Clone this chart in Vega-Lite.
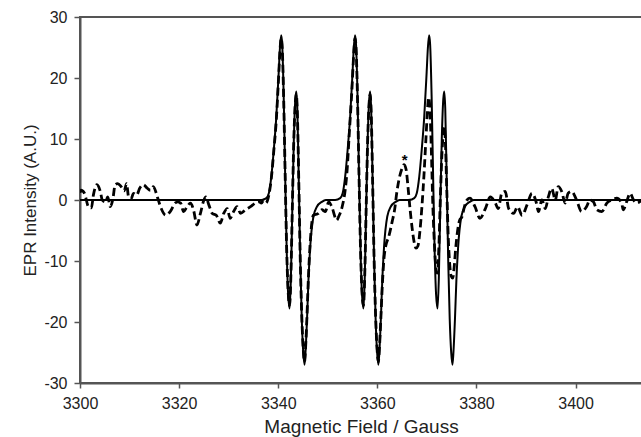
{
  "$schema": "https://vega.github.io/schema/vega-lite/v6.json",
  "width": 562,
  "height": 366,
  "autosize": {"type": "none"},
  "padding": {"left": 80, "top": 17, "right": 0, "bottom": 54},
  "background": "white",
  "config": {
    "view": {"stroke": "#555", "strokeWidth": 2},
    "font": "Liberation Sans",
    "axis": {
      "grid": false,
      "domainColor": "#555",
      "domainWidth": 2,
      "tickColor": "#555",
      "tickWidth": 1.5,
      "labelFont": "Liberation Sans",
      "labelColor": "#222",
      "labelFontSize": 16,
      "titleFont": "Liberation Sans",
      "titleColor": "#222",
      "titleFontWeight": "normal"
    }
  },
  "datasets": {
    "sim": [
      {"x": 3300, "y": 0}, {"x": 3336.6, "y": 0}, {"x": 3337.6, "y": 0.3}, {"x": 3338.1, "y": 1.1}, {"x": 3338.6, "y": 3.8}, {"x": 3339.1, "y": 8.2}, {"x": 3339.6, "y": 13.5}, {"x": 3340.1, "y": 21}, {"x": 3340.35, "y": 25}, {"x": 3340.6, "y": 27}, {"x": 3340.8, "y": 25.5}, {"x": 3341.1, "y": 17}, {"x": 3341.4, "y": 4}, {"x": 3341.7, "y": -8}, {"x": 3342.0, "y": -15.5}, {"x": 3342.3, "y": -17.8}, {"x": 3342.55, "y": -13}, {"x": 3342.85, "y": -1}, {"x": 3343.15, "y": 10}, {"x": 3343.45, "y": 16.5}, {"x": 3343.65, "y": 17.8}, {"x": 3343.85, "y": 15}, {"x": 3344.15, "y": 3}, {"x": 3344.45, "y": -10}, {"x": 3344.75, "y": -19.5}, {"x": 3345.05, "y": -25}, {"x": 3345.3, "y": -27}, {"x": 3345.5, "y": -25}, {"x": 3345.8, "y": -19.7}, {"x": 3346.1, "y": -13.1}, {"x": 3346.45, "y": -7.7}, {"x": 3347.1, "y": -2.7}, {"x": 3347.8, "y": -1.1}, {"x": 3348.8, "y": -0.3}, {"x": 3349.6, "y": 0},
      {"x": 3351.5, "y": 0}, {"x": 3352.5, "y": 0.3}, {"x": 3353.0, "y": 1.1}, {"x": 3353.5, "y": 3.8}, {"x": 3354.0, "y": 8.2}, {"x": 3354.5, "y": 13.5}, {"x": 3355.0, "y": 21}, {"x": 3355.25, "y": 25}, {"x": 3355.5, "y": 27}, {"x": 3355.7, "y": 25.5}, {"x": 3356.0, "y": 17}, {"x": 3356.3, "y": 4}, {"x": 3356.6, "y": -8}, {"x": 3356.9, "y": -15.5}, {"x": 3357.2, "y": -17.8}, {"x": 3357.45, "y": -13}, {"x": 3357.75, "y": -1}, {"x": 3358.05, "y": 10}, {"x": 3358.35, "y": 16.5}, {"x": 3358.55, "y": 17.8}, {"x": 3358.75, "y": 15}, {"x": 3359.05, "y": 3}, {"x": 3359.35, "y": -10}, {"x": 3359.65, "y": -19.5}, {"x": 3359.95, "y": -25}, {"x": 3360.2, "y": -27}, {"x": 3360.4, "y": -25}, {"x": 3360.7, "y": -19.7}, {"x": 3361.0, "y": -13.1}, {"x": 3361.35, "y": -7.7}, {"x": 3362.0, "y": -2.7}, {"x": 3362.7, "y": -1.1}, {"x": 3363.7, "y": -0.3}, {"x": 3364.5, "y": 0},
      {"x": 3366.45, "y": 0}, {"x": 3367.45, "y": 0.3}, {"x": 3367.95, "y": 1.1}, {"x": 3368.45, "y": 3.8}, {"x": 3368.95, "y": 8.2}, {"x": 3369.45, "y": 13.5}, {"x": 3369.95, "y": 21}, {"x": 3370.2, "y": 25}, {"x": 3370.45, "y": 27}, {"x": 3370.65, "y": 25.5}, {"x": 3370.95, "y": 17}, {"x": 3371.25, "y": 4}, {"x": 3371.55, "y": -8}, {"x": 3371.85, "y": -15.5}, {"x": 3372.15, "y": -17.8}, {"x": 3372.4, "y": -13}, {"x": 3372.7, "y": -1}, {"x": 3373.0, "y": 10}, {"x": 3373.3, "y": 16.5}, {"x": 3373.5, "y": 17.8}, {"x": 3373.7, "y": 15}, {"x": 3374.0, "y": 3}, {"x": 3374.3, "y": -10}, {"x": 3374.6, "y": -19.5}, {"x": 3374.9, "y": -25}, {"x": 3375.15, "y": -27}, {"x": 3375.35, "y": -25}, {"x": 3375.65, "y": -19.7}, {"x": 3375.95, "y": -13.1}, {"x": 3376.3, "y": -7.7}, {"x": 3376.95, "y": -2.7}, {"x": 3377.65, "y": -1.1}, {"x": 3378.65, "y": -0.3}, {"x": 3379.45, "y": 0}, {"x": 3413.4, "y": 0}
    ],
    "exp": [
      {"x": 3300.0, "y": 1.2}, {"x": 3300.2, "y": 1.6}, {"x": 3300.9, "y": 1.1}, {"x": 3301.7, "y": -1.1}, {"x": 3302.3, "y": -1.3}, {"x": 3302.7, "y": 0.8}, {"x": 3303.4, "y": 2.5}, {"x": 3304.1, "y": 1.4}, {"x": 3304.5, "y": 0}, {"x": 3305.1, "y": -0.3}, {"x": 3305.6, "y": 0.5}, {"x": 3306.1, "y": -1.1}, {"x": 3306.6, "y": 0}, {"x": 3307.1, "y": 2.5}, {"x": 3307.6, "y": 2.7}, {"x": 3308.3, "y": 2.2}, {"x": 3308.9, "y": 1.5}, {"x": 3309.4, "y": 2.7}, {"x": 3309.8, "y": 0.5}, {"x": 3310.3, "y": 0.2}, {"x": 3310.8, "y": 1.1}, {"x": 3311.4, "y": 0.8}, {"x": 3312.1, "y": 2.0}, {"x": 3312.8, "y": 2.5}, {"x": 3313.5, "y": 2.0}, {"x": 3314.2, "y": 1.6}, {"x": 3314.8, "y": 2.2}, {"x": 3315.5, "y": 0.8}, {"x": 3315.8, "y": 0}, {"x": 3316.5, "y": -1.6}, {"x": 3317.3, "y": -2.5}, {"x": 3318.2, "y": -1.9}, {"x": 3319.2, "y": -0.5}, {"x": 3319.7, "y": -0.3}, {"x": 3320.3, "y": -0.5}, {"x": 3320.9, "y": -1.9}, {"x": 3321.6, "y": -1.1}, {"x": 3322.3, "y": -0.5}, {"x": 3322.9, "y": -1.6}, {"x": 3323.6, "y": -4.1}, {"x": 3324.3, "y": -2.2}, {"x": 3325.0, "y": 0}, {"x": 3325.4, "y": 0.5}, {"x": 3326.0, "y": -0.8}, {"x": 3326.7, "y": -2.2}, {"x": 3327.5, "y": -2.5}, {"x": 3328.3, "y": -3.8}, {"x": 3329.0, "y": -2.2}, {"x": 3329.7, "y": -1.4}, {"x": 3330.3, "y": -3.0}, {"x": 3331.0, "y": -1.9}, {"x": 3331.7, "y": -1.1}, {"x": 3332.4, "y": -2.2}, {"x": 3333.4, "y": -1.6}, {"x": 3334.4, "y": -1.1}, {"x": 3335.4, "y": -0.5}, {"x": 3336.1, "y": -0.3}, {"x": 3336.6, "y": -0.5}, {"x": 3337.1, "y": 0}, {"x": 3337.5, "y": -0.5}, {"x": 3338.1, "y": 0.8},
      {"x": 3338.6, "y": 3.5}, {"x": 3339.1, "y": 8}, {"x": 3339.6, "y": 13}, {"x": 3340.1, "y": 20.5}, {"x": 3340.35, "y": 24.5}, {"x": 3340.6, "y": 26.5}, {"x": 3340.8, "y": 25}, {"x": 3341.1, "y": 16.5}, {"x": 3341.4, "y": 4}, {"x": 3341.7, "y": -8}, {"x": 3342.0, "y": -15}, {"x": 3342.3, "y": -17.3}, {"x": 3342.55, "y": -12.5}, {"x": 3342.85, "y": -1}, {"x": 3343.15, "y": 10}, {"x": 3343.45, "y": 16}, {"x": 3343.65, "y": 17.3}, {"x": 3343.85, "y": 14.5}, {"x": 3344.15, "y": 3}, {"x": 3344.45, "y": -10}, {"x": 3344.75, "y": -19}, {"x": 3345.05, "y": -24.5}, {"x": 3345.3, "y": -26.5}, {"x": 3345.5, "y": -24.5}, {"x": 3345.8, "y": -19}, {"x": 3346.1, "y": -12.5}, {"x": 3346.45, "y": -7}, {"x": 3347.1, "y": -2.5}, {"x": 3348.1, "y": -2.2}, {"x": 3348.8, "y": -1.6}, {"x": 3349.5, "y": -1.9}, {"x": 3350.2, "y": -0.3}, {"x": 3350.8, "y": -1.1}, {"x": 3351.8, "y": -3.3}, {"x": 3352.2, "y": -2.7}, {"x": 3352.9, "y": -1.1}, {"x": 3353.5, "y": 1.6}, {"x": 3353.9, "y": 4.9}, {"x": 3354.3, "y": 10.4}, {"x": 3354.9, "y": 18.6}, {"x": 3355.2, "y": 23.5}, {"x": 3355.5, "y": 26.5}, {"x": 3355.7, "y": 25}, {"x": 3356.0, "y": 16.5}, {"x": 3356.3, "y": 4}, {"x": 3356.6, "y": -8}, {"x": 3356.9, "y": -15}, {"x": 3357.2, "y": -17.3}, {"x": 3357.45, "y": -12.5}, {"x": 3357.75, "y": -1}, {"x": 3358.05, "y": 10}, {"x": 3358.35, "y": 16}, {"x": 3358.55, "y": 17.3}, {"x": 3358.75, "y": 14.5}, {"x": 3359.05, "y": 3}, {"x": 3359.35, "y": -10}, {"x": 3359.65, "y": -19}, {"x": 3359.95, "y": -24.5}, {"x": 3360.2, "y": -26.5}, {"x": 3360.4, "y": -24.5}, {"x": 3360.7, "y": -19.5}, {"x": 3361.0, "y": -14}, {"x": 3361.35, "y": -9.5}, {"x": 3361.7, "y": -7.5}, {"x": 3362.3, "y": -6}, {"x": 3363.0, "y": -3.5}, {"x": 3363.5, "y": -1.5}, {"x": 3363.9, "y": 1.1}, {"x": 3364.4, "y": 3.5}, {"x": 3364.9, "y": 5}, {"x": 3365.4, "y": 5.8}, {"x": 3365.8, "y": 5}, {"x": 3366.2, "y": 2}, {"x": 3366.6, "y": -1.5}, {"x": 3367.0, "y": -4.5}, {"x": 3367.4, "y": -6.8}, {"x": 3367.8, "y": -7.9}, {"x": 3368.2, "y": -7.5}, {"x": 3368.6, "y": -5}, {"x": 3369.0, "y": -1}, {"x": 3369.4, "y": 4}, {"x": 3369.8, "y": 10}, {"x": 3370.1, "y": 14.5}, {"x": 3370.35, "y": 16.8}, {"x": 3370.6, "y": 15}, {"x": 3370.9, "y": 8}, {"x": 3371.2, "y": -1}, {"x": 3371.5, "y": -7}, {"x": 3371.8, "y": -11}, {"x": 3372.1, "y": -12}, {"x": 3372.4, "y": -8}, {"x": 3372.7, "y": 0}, {"x": 3373.0, "y": 7}, {"x": 3373.3, "y": 11}, {"x": 3373.5, "y": 12}, {"x": 3373.7, "y": 10}, {"x": 3374.0, "y": 2}, {"x": 3374.3, "y": -6}, {"x": 3374.6, "y": -10.5}, {"x": 3374.9, "y": -12.5}, {"x": 3375.2, "y": -12.8}, {"x": 3375.5, "y": -11}, {"x": 3375.8, "y": -8}, {"x": 3376.2, "y": -5}, {"x": 3376.6, "y": -3.3}, {"x": 3377.1, "y": -2.7}, {"x": 3377.6, "y": -1}, {"x": 3378.1, "y": 0},
      {"x": 3378.7, "y": 0.3}, {"x": 3379.7, "y": -1.1}, {"x": 3380.7, "y": -3.0}, {"x": 3381.8, "y": -1.4}, {"x": 3382.8, "y": 0.5}, {"x": 3383.8, "y": -0.5}, {"x": 3384.4, "y": -1.4}, {"x": 3385.1, "y": 1.1}, {"x": 3385.8, "y": 1.4}, {"x": 3386.5, "y": -1.4}, {"x": 3387.5, "y": -2.2}, {"x": 3388.3, "y": -1.1}, {"x": 3389.2, "y": -2.5}, {"x": 3390.2, "y": -0.8}, {"x": 3391.2, "y": 1.1}, {"x": 3392.1, "y": -0.5}, {"x": 3392.5, "y": -1.9}, {"x": 3393.2, "y": 0}, {"x": 3393.9, "y": -1.4}, {"x": 3394.5, "y": 0.5}, {"x": 3395.2, "y": 1.9}, {"x": 3395.9, "y": 0}, {"x": 3396.5, "y": 2.2}, {"x": 3397.2, "y": 1.4}, {"x": 3397.9, "y": -0.5}, {"x": 3398.5, "y": 1.1}, {"x": 3399.2, "y": 1.4}, {"x": 3400.2, "y": 0}, {"x": 3401.2, "y": -1.9}, {"x": 3402.2, "y": -1.1}, {"x": 3402.9, "y": 0}, {"x": 3403.6, "y": -0.3}, {"x": 3404.3, "y": -1.6}, {"x": 3405.3, "y": -1.9}, {"x": 3406.3, "y": -0.5}, {"x": 3407.3, "y": 0}, {"x": 3408.3, "y": 0.3}, {"x": 3409.3, "y": -0.5}, {"x": 3409.6, "y": -1.6}, {"x": 3410.3, "y": -0.3}, {"x": 3411.0, "y": 1.1}, {"x": 3411.7, "y": 0}, {"x": 3412.3, "y": -0.5}, {"x": 3413.4, "y": 0}
    ],
    "marks": [{"x": 3365.5, "y": 5.8, "t": "*"}]
  },
  "encoding": {
    "x": {
      "field": "x", "type": "quantitative",
      "scale": {"domain": [3300, 3413.4], "nice": false, "zero": false},
      "axis": {"values": [3300, 3320, 3340, 3360, 3380, 3400], "tickSize": 5, "labelPadding": 7, "title": "Magnetic Field / Gauss", "titleFontSize": 19, "titlePadding": 6, "labelFlush": false, "labelExpr": "'' + datum.value"}
    },
    "y": {
      "field": "y", "type": "quantitative",
      "scale": {"domain": [-30, 30], "nice": false},
      "axis": {"values": [-30, -20, -10, 0, 10, 20, 30], "tickSize": 6, "labelPadding": 7, "title": "EPR Intensity (A.U.)", "titleFontSize": 17, "titleAnchor": "middle", "labelFlush": false, "labelExpr": "'' + datum.value"}
    }
  },
  "layer": [
    {"data": {"name": "sim"}, "mark": {"type": "line", "color": "black", "strokeWidth": 2, "interpolate": "monotone", "clip": true}},
    {"data": {"name": "exp"}, "mark": {"type": "line", "color": "black", "strokeWidth": 2.8, "strokeDash": [8, 4], "interpolate": "monotone", "clip": true}},
    {"data": {"name": "marks"}, "mark": {"type": "text", "fontSize": 15, "fontWeight": "bold", "baseline": "alphabetic", "align": "center", "color": "black"}, "encoding": {"text": {"field": "t"}}}
  ]
}
